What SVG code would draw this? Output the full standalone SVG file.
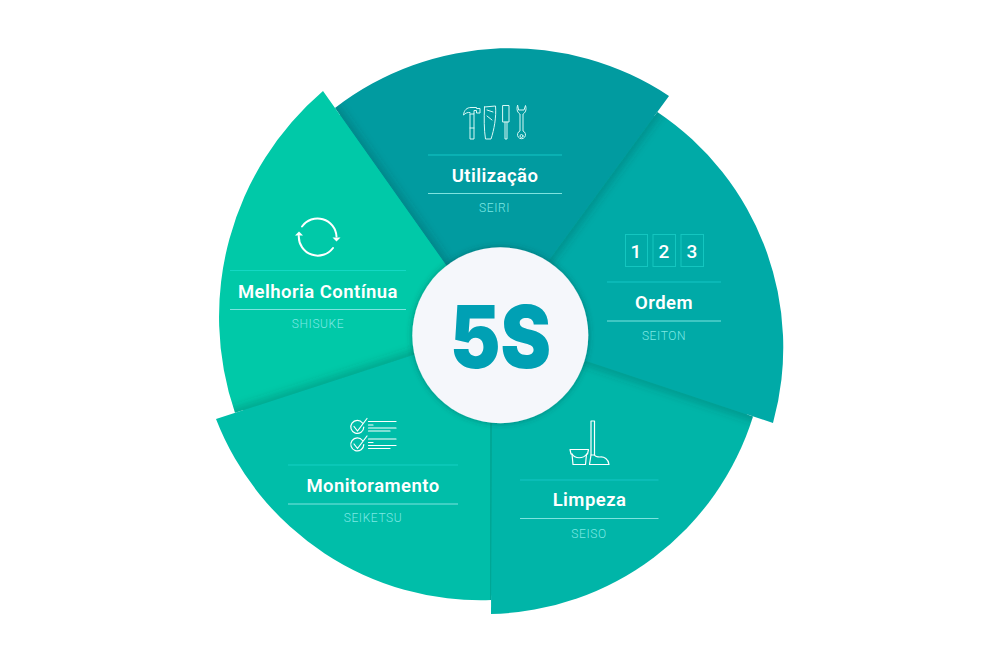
<svg xmlns="http://www.w3.org/2000/svg" width="1000" height="660" viewBox="0 0 1000 660">
<style>
text{font-family:"Roboto","Liberation Sans",sans-serif;text-anchor:middle}
.t{font-size:18.5px;font-weight:600;fill:#fff;letter-spacing:.45px}
.s{font-size:12px;font-weight:300;fill:#7ce8e4;letter-spacing:.6px}
.d{font-size:19px;font-weight:500;fill:#fff}
.l1{stroke:#14c6c6;stroke-width:1;fill:none}
.l2{stroke:#7ee3df;stroke-width:1;fill:none}
.i{fill:none;stroke:#fff;stroke-width:1.2;stroke-linejoin:round;stroke-linecap:round}
.sh{stroke:#00403f;stroke-opacity:.45;stroke-width:5;fill:none;filter:url(#b)}
</style>
<defs>
<filter id="b" x="-30%" y="-30%" width="160%" height="160%"><feGaussianBlur stdDeviation="5"/></filter>
<filter id="c" x="-10%" y="-10%" width="120%" height="120%"><feDropShadow dx="0" dy="0" stdDeviation="3" flood-color="#003f40" flood-opacity=".45"/></filter>
<path id="w1" d="M335,108A287,287 0 0 1 669,96L549,260L500,335L446,265Z"/>
<path id="w2" d="M657.300,112A283,283 0 0 1 773,423L586,361L500,335L549,260Z"/>
<path id="w3" d="M753,416.400A281,281 0 0 1 491,614L492,425L500,335L586,361Z"/>
<path id="w4" d="M216,419A284,284 0 0 0 491.100,600L492,425L500,335L413,355Z"/>
<path id="w5" d="M323,91A297,297 0 0 0 235,412.800L413,355L500,335L446,265Z"/>
<clipPath id="k1"><use href="#w1"/></clipPath>
<clipPath id="k2"><use href="#w2"/></clipPath>
<clipPath id="k3"><use href="#w3"/></clipPath>
<clipPath id="k4"><use href="#w4"/></clipPath>
<clipPath id="k5"><use href="#w5"/></clipPath>
</defs>

<polygon id="backing" points="340,115 655,116 748,414 492,596 240,408" fill="#00b0a8"/>

<g id="seiri">
<use href="#w1" fill="#019ba0"/>
<g clip-path="url(#k1)"><path class="sh" d="M323,91L446,265L470,298"/></g>
<line class="l1" x1="428" y1="155" x2="562" y2="155"/>
<line class="l2" x1="428" y1="193.500" x2="562" y2="193.500"/>
<text class="t" x="495" y="182">Utilização</text>
<text class="s" x="494.500" y="212">SEIRI</text>
<g class="i" style="stroke:#d8f8f5;stroke-width:1" id="icon-tools">
<path d="M470,114V139H474V114M470,114H474V110.500H476.500V113H480V108.500H476.500V107.500H471C467,107.500 464,110 463.500,115C465.500,113 468,112 470,112.500M470,128H474"/>
<path d="M484.500,107L495.500,106C496.500,117 494,130 491,139H485.500C484,130 484,118 484.500,107ZM487,110L493,112M487,116L492,120"/>
<path d="M503,105.500H509V122H503ZM505,122V139H507V122"/>
<path d="M517.500,105.500C516,110 518,113 520,114V131A4,4 0 1 0 523,131V114C525,113 527,110 525.500,105.500L524,110H519Z"/>
<circle cx="521.500" cy="136" r="1.500"/>
</g>
</g>

<g id="seiton">
<use href="#w2" fill="#00aaa7"/>
<g clip-path="url(#k2)"><path class="sh" d="M669,96L549,260L520,300"/></g>
<line class="l1" x1="607" y1="282" x2="721" y2="282"/>
<line class="l2" x1="607" y1="321" x2="721" y2="321"/>
<text class="t" x="664" y="308.500">Ordem</text>
<text class="s" x="664" y="339.500">SEITON</text>
<g id="icon-numbers">
<rect x="625.500" y="234.500" width="22" height="32" fill="none" stroke="#14c6c0"/>
<rect x="653" y="234.500" width="22.500" height="32" fill="none" stroke="#14c6c0"/>
<rect x="681" y="234.500" width="22.500" height="32" fill="none" stroke="#14c6c0"/>
<text class="d" x="636" y="257.500">1</text>
<text class="d" x="664" y="257.500">2</text>
<text class="d" x="692" y="257.500">3</text>
</g>
</g>

<g id="seiso">
<use href="#w3" fill="#00b5a8"/>
<g clip-path="url(#k3)"><path class="sh" d="M773,423L586,361L550,349"/></g>
<line class="l1" x1="520" y1="480" x2="658.500" y2="480"/>
<line class="l2" x1="520" y1="518.500" x2="658.500" y2="518.500"/>
<text class="t" x="589.500" y="506">Limpeza</text>
<text class="s" x="589" y="538">SEISO</text>
<g class="i" id="icon-mop">
<path d="M591,421H594.500V455H591Z"/>
<path d="M570,449.500H588.500L587.500,454H586.500L585.500,464.500H573L572,454H571Z"/>
<path d="M572,454C575,459 583,459 587,454"/>
<path d="M591,455L589.500,464.500H609C608.500,459 604,456.500 600,457C597,457 595,456 594.500,455"/>
</g>
</g>

<g id="seiketsu">
<use href="#w4" fill="#00bea9"/>
<g clip-path="url(#k4)"><path class="sh" d="M491,614L492,425L493,390"/></g>
<line class="l1" x1="288" y1="465" x2="458" y2="465" style="stroke:#14d0c4"/>
<line class="l2" x1="288" y1="504" x2="458" y2="504"/>
<text class="t" x="373" y="491.500">Monitoramento</text>
<text class="s" x="373" y="522">SEIKETSU</text>
<g class="i" id="icon-check">
<path d="M362.500,423A6.500,6.500 0 1 0 363.800,427M354,426.500L357.500,431L367,418.500"/>
<path d="M362.500,440.500A6.500,6.500 0 1 0 363.800,444.500M354,444L357.500,448.500L367,436"/>
<path d="M368.500,421.500H396M368.500,425H373M368.500,428H396M368.500,431H390"/>
<path d="M368.500,439H396M368.500,442.500H373M368.500,445.500H396M368.500,448.500H390"/>
</g>
</g>

<g id="shisuke">
<use href="#w5" fill="#00c9a8"/>
<g clip-path="url(#k5)"><path class="sh" d="M216,419L413,355L450,343"/></g>
<line class="l1" x1="230" y1="270.500" x2="406" y2="270.500" style="stroke:#14d8c4"/>
<line class="l2" x1="230" y1="309.500" x2="406" y2="309.500"/>
<text class="t" x="318" y="297.500">Melhoria Contínua</text>
<text class="s" x="318" y="327.500">SHISUKE</text>
<g id="icon-cycle">
<path d="M302,226.500A19,19 0 0 1 336.500,236.500" fill="none" stroke="#fff" stroke-width="2" stroke-linecap="round"/>
<path d="M333,248A19,19 0 0 1 298.800,236" fill="none" stroke="#fff" stroke-width="2" stroke-linecap="round"/>
<path d="M332.500,237.500H340.500L336.500,241.500Z" fill="#fff"/>
<path d="M295,235.500H303L299,231.500Z" fill="#fff"/>
</g>
</g>

<g id="center">
<circle cx="500.300" cy="335.300" r="88" fill="#f5f7fb" filter="url(#c)"/>
<text x="450" y="368" font-size="86" font-weight="900" fill="#00a0b4" textLength="101" lengthAdjust="spacingAndGlyphs" style="font-family:Inter,Lato,sans-serif;text-anchor:start">5S</text>
</g>
</svg>
